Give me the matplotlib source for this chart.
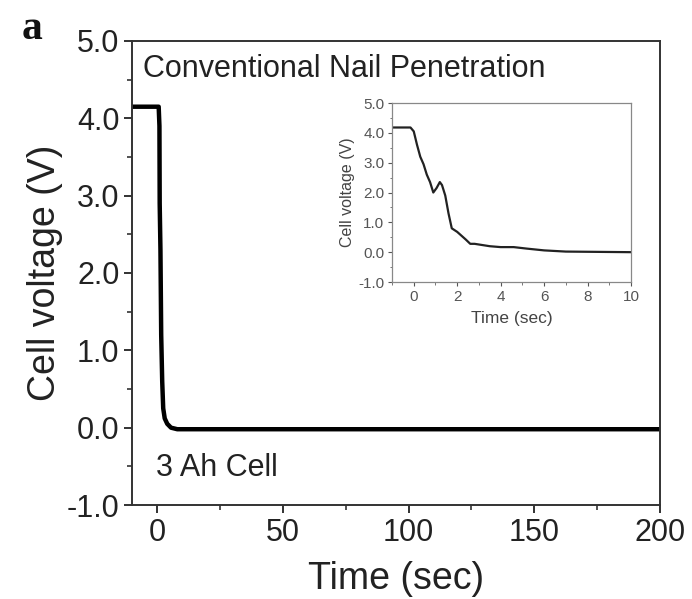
import matplotlib
matplotlib.use("Agg")
import matplotlib.pyplot as plt
from matplotlib.ticker import MultipleLocator, FormatStrFormatter

plt.rcParams['font.family'] = ['Liberation Sans', 'DejaVu Sans']

# main curve (3 Ah cell, full test)
t_main = [-10, 0.6, 0.9, 1.0, 1.3, 1.6, 2.0, 2.4, 3.0, 4.0, 5.5, 8.0, 200]
v_main = [4.15, 4.15, 3.9, 2.9, 2.3, 1.2, 0.6, 0.25, 0.12, 0.05, 0.0, -0.02, -0.02]

# inset curve (first 10 s)
t_ins = [-1, -0.15, 0.0, 0.15, 0.3, 0.45, 0.6, 0.75, 0.9, 1.05, 1.2, 1.3, 1.45,
         1.6, 1.75, 2.0, 2.2, 2.4, 2.6, 2.8, 3.5, 4.0, 4.6, 5.2, 6.0, 7.0, 10]
v_ins = [4.18, 4.18, 4.05, 3.6, 3.2, 2.95, 2.6, 2.35, 2.0, 2.15, 2.35, 2.25, 1.9,
         1.3, 0.8, 0.68, 0.55, 0.42, 0.28, 0.28, 0.2, 0.17, 0.17, 0.12, 0.06, 0.02, 0.0]

fig = plt.figure(figsize=(6.92, 5.99), dpi=100)
ax = fig.add_axes([0.1908, 0.1569, 0.763, 0.7747])

ax.plot(t_main, v_main, color='black', lw=3.2, solid_joinstyle='round')
ax.set_xlim(-10, 200)
ax.set_ylim(-1, 5)
ax.xaxis.set_major_locator(MultipleLocator(50))
ax.xaxis.set_minor_locator(MultipleLocator(25))
ax.yaxis.set_major_locator(MultipleLocator(1))
ax.yaxis.set_minor_locator(MultipleLocator(0.5))
ax.yaxis.set_major_formatter(FormatStrFormatter('%.1f'))
ax.tick_params(which='major', direction='out', length=6, width=1.3, labelsize=22,
               colors='#222222', pad=3)
ax.tick_params(which='minor', direction='out', length=3.5, width=1.1, colors='#222222')
for s in ax.spines.values():
    s.set_linewidth(1.4)
    s.set_color('#333333')
ax.set_xlabel("Time (sec)", fontsize=27, color='#222222', labelpad=10)
ax.set_ylabel("Cell voltage (V)", fontsize=27, color='#222222', labelpad=3)

ax.text(0.02, 0.972, "Conventional Nail Penetration", transform=ax.transAxes,
        fontsize=22, color='#222222', va='top', ha='left')
ax.text(0.045, 0.08, "3 Ah Cell", transform=ax.transAxes,
        fontsize=22, color='#222222', va='center', ha='left')
fig.text(0.031, 0.952, "a", fontsize=30, fontweight='bold', family='Liberation Serif',
         color='#111111', va='center')

# inset
axi = fig.add_axes([0.5665, 0.5292, 0.3454, 0.2988])
axi.plot(t_ins, v_ins, color='#222222', lw=1.6)
axi.set_xlim(-1, 10)
axi.set_ylim(-1, 5)
axi.xaxis.set_major_locator(MultipleLocator(2))
axi.xaxis.set_minor_locator(MultipleLocator(1))
axi.yaxis.set_major_locator(MultipleLocator(1))
axi.yaxis.set_minor_locator(MultipleLocator(0.5))
axi.yaxis.set_major_formatter(FormatStrFormatter('%.1f'))
axi.tick_params(which='major', direction='out', length=3, width=0.8, labelsize=11,
                colors='#555555', pad=2.5)
axi.tick_params(which='minor', direction='out', length=1.8, width=0.7, colors='#777777')
for s in axi.spines.values():
    s.set_linewidth(0.9)
    s.set_color('#888888')
axi.set_xlabel("Time (sec)", fontsize=12.5, color='#444444', labelpad=5)
axi.set_ylabel("Cell voltage (V)", fontsize=11.5, color='#444444', labelpad=2)

fig.savefig("out.png", dpi=100)
